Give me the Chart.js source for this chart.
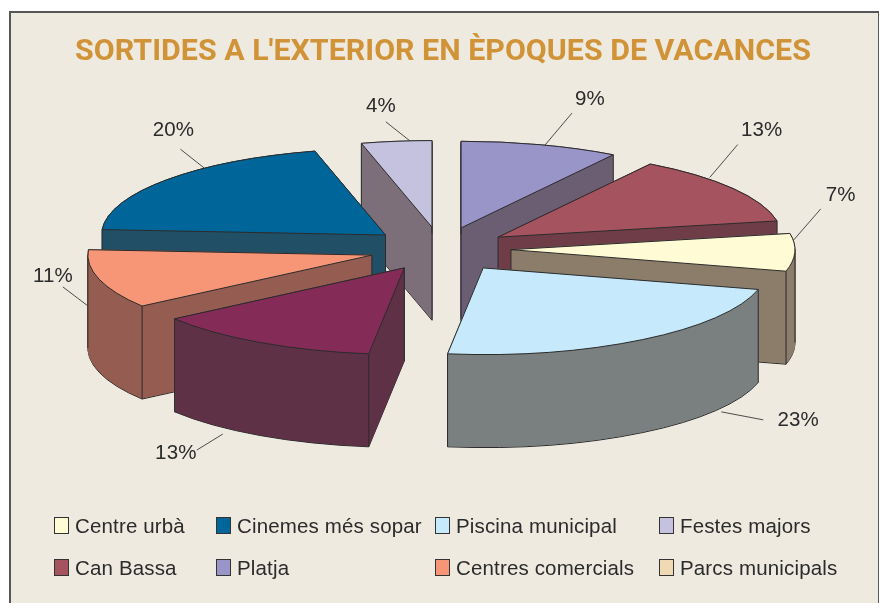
<!DOCTYPE html>
<html lang="ca">
<head>
<meta charset="utf-8">
<title>Sortides a l'exterior</title>
<style>
  html, body { margin: 0; padding: 0; background: #fff; overflow: hidden; }
  #panel { position: absolute; left: 9px; top: 11px; width: 867px; height: 600px; background: #EEEAE0; border: 2px solid #575757; box-sizing: content-box; }
  #c { position: absolute; left: 0; top: 0; }
</style>
</head>
<body>
<div id="panel"></div>
<canvas id="c" width="879" height="603"></canvas>
<script src="https://cdn.jsdelivr.net/npm/chart.js@4"></script>
<script>
// ---- data ----
const titleText = "SORTIDES A L'EXTERIOR EN ÈPOQUES DE VACANCES";
const categories = ["Platja", "Can Bassa", "Centre urbà", "Piscina municipal", "Parcs municipals", "Centres comercials", "Cinemes més sopar", "Festes majors"];
const values = [9, 13, 7, 23, 13, 11, 20, 4];
const topColors = ["#9A95C8", "#A5535F", "#FFFBD5", "#C6E9FC", "#852B58", "#F79677", "#006699", "#C5C2E0"];
const sideColors = ["#6B5D72", "#6F3D48", "#8C7D6B", "#7A7F7F", "#5F3147", "#955C52", "#214F66", "#7C6F7A"];
const legendRows = [
  ["Centre urbà", "Cinemes més sopar", "Piscina municipal", "Festes majors"],
  ["Can Bassa", "Platja", "Centres comercials", "Parcs municipals"]
];
const legendSwatches = [
  ["#FFFBD5", "#006699", "#C6E9FC", "#C5C2E0"],
  ["#A5535F", "#9A95C8", "#F79677", "#F0D9B5"]
];

// ---- layout / style ----
const CX = 441, CY = 249, RADIUS = 284, SQUASH = 0.305, DEPTH = 93;
const explodeBy = [72, 69, 70, 75, 72, 72, 72, 72];
const INK = "#2B2B2B";
const LABEL_FONT = "20.5px 'Liberation Sans'";
const LETTER = "0.15px";
const paintOrder = [7, 0, 6, 1, 2, 5, 4, 3];
// per slice: position along the arc, share of the wall depth, leader vector, label centre from anchor
const leaderLayout = [
  { f: 0.53,  d: 0,     lx: 27,  ly: -32, tx: 45,  ty: -46 },
  { f: 0.337, d: -0.02, lx: 28,  ly: -33, tx: 52,  ty: -47 },
  { f: 0.22,  d: -0.02, lx: 27,  ly: -31, tx: 47,  ty: -45 },
  { f: 0.225, d: 1.04,  lx: 42,  ly: 8,   tx: 77,  ty: 8 },
  { f: 0.695, d: 1.07,  lx: -26, ly: 16,  tx: -47, ty: 19 },
  { f: 0.90,  d: 0.54,  lx: -25, ly: -19, tx: -35, ty: -30 },
  { f: 0.65,  d: 0,     lx: -24, ly: -19, tx: -31, ty: -38 },
  { f: 0.69,  d: 0,     lx: -24, ly: -19, tx: -29, ty: -35 }
];
const legendColumns = [54, 216, 435, 659];
const legendRowsY = [525, 567];
const legendTextGap = 21;

function drawSlice(ctx, arc, i, dy, fill, stroke) {
  const mid = (arc.startAngle + arc.endAngle) / 2;
  const saved = arc.options;
  arc.options = {
    backgroundColor: fill, borderColor: stroke || fill, borderWidth: 1,
    borderAlign: "center", borderJoinStyle: "round", borderRadius: 0, offset: 0, spacing: 0, circular: true
  };
  ctx.save();
  ctx.translate(CX, CY + dy);
  ctx.scale(1, SQUASH);
  ctx.translate(-arc.x, -arc.y);
  ctx.translate(Math.cos(mid) * explodeBy[i], Math.sin(mid) * explodeBy[i]);
  const nativeStroke = ctx.stroke;
  ctx.stroke = function () {           // keep a uniform line width under the squash
    ctx.save();
    ctx.setTransform(1, 0, 0, 1, 0, 0);
    nativeStroke.call(ctx);
    ctx.restore();
  };
  arc.draw(ctx);
  delete ctx.stroke;
  ctx.restore();
  arc.options = saved;
}

function rimPoint(arc, i, angle) {
  const mid = (arc.startAngle + arc.endAngle) / 2;
  return {
    x: CX + Math.cos(mid) * explodeBy[i] + Math.cos(angle) * arc.outerRadius,
    y: CY + (Math.sin(mid) * explodeBy[i] + Math.sin(angle) * arc.outerRadius) * SQUASH
  };
}
function apex(arc, i) {
  const mid = (arc.startAngle + arc.endAngle) / 2;
  return { x: CX + Math.cos(mid) * explodeBy[i], y: CY + Math.sin(mid) * explodeBy[i] * SQUASH };
}
function drop(ctx, p) {
  ctx.beginPath();
  ctx.moveTo(p.x, p.y);
  ctx.lineTo(p.x, p.y + DEPTH);
  ctx.stroke();
}

const wallLayer = document.createElement("canvas");

const pie3d = {
  id: "pie3d",
  beforeDatasetDraw(chart) {
    const ctx = chart.ctx;
    const arcs = chart.getDatasetMeta(0).data;
    wallLayer.width = chart.width;
    wallLayer.height = chart.height;
    const off = wallLayer.getContext("2d");
    paintOrder.forEach(i => {
      const arc = arcs[i];
      // the ink outline of the wall's lower edge goes first
      drawSlice(ctx, arc, i, DEPTH, sideColors[i], INK);
      // wall: sweep the slice upward on its own layer, then flatten the colour
      off.clearRect(0, 0, wallLayer.width, wallLayer.height);
      for (let k = DEPTH - 1; k >= 0; k--) drawSlice(off, arc, i, k, sideColors[i]);
      off.save();
      off.globalCompositeOperation = "source-atop";
      off.fillStyle = sideColors[i];
      off.fillRect(0, 0, wallLayer.width, wallLayer.height);
      off.restore();
      ctx.drawImage(wallLayer, 0, 0);
      ctx.save();
      ctx.strokeStyle = INK;
      ctx.lineWidth = 1;
      const a = arc.startAngle, b = arc.endAngle;
      // canvas angle: sin<0 is the back half, cos>0 the right side
      if (!(Math.sin(a) < -1e-6 && Math.cos(a) > 1e-6)) drop(ctx, rimPoint(arc, i, a));
      if (!(Math.sin(b) < -1e-6 && Math.cos(b) < -1e-6)) drop(ctx, rimPoint(arc, i, b));
      const holdsFront = a < Math.PI / 2 && b > Math.PI / 2;
      if (!holdsFront) drop(ctx, apex(arc, i));
      if (a < 0 && b > 0) drop(ctx, rimPoint(arc, i, 0));
      if (a < Math.PI && b > Math.PI) drop(ctx, rimPoint(arc, i, Math.PI));
      ctx.restore();
      drawSlice(ctx, arc, i, 0, topColors[i], INK);
    });
    return false;
  },
  afterDraw(chart) {
    const ctx = chart.ctx;
    const arcs = chart.getDatasetMeta(0).data;
    ctx.save();
    ctx.font = LABEL_FONT;
    ctx.letterSpacing = LETTER;
    ctx.textBaseline = "middle";
    ctx.fillStyle = INK;
    ctx.strokeStyle = "#3A3A3A";
    ctx.lineWidth = 0.9;
    // percentage labels and leaders
    values.forEach((v, i) => {
      const arc = arcs[i], L = leaderLayout[i];
      const p = rimPoint(arc, i, arc.startAngle + (arc.endAngle - arc.startAngle) * L.f);
      const y = p.y + DEPTH * L.d;
      ctx.beginPath();
      ctx.moveTo(p.x, y);
      ctx.lineTo(p.x + L.lx, y + L.ly);
      ctx.stroke();
      ctx.textAlign = "center";
      ctx.fillText(v + "%", p.x + L.tx, y + L.ty);
    });
    // legend
    ctx.textAlign = "left";
    legendRows.forEach((row, r) => {
      row.forEach((name, c) => {
        const x = legendColumns[c], y = legendRowsY[r];
        ctx.fillStyle = legendSwatches[r][c];
        ctx.fillRect(x, y - 8, 14, 16);
        ctx.lineWidth = 1;
        ctx.strokeStyle = "#333";
        ctx.strokeRect(x + 0.5, y - 7.5, 14, 16);
        ctx.fillStyle = INK;
        ctx.fillText(name, x + legendTextGap, y + 2);
      });
    });
    ctx.restore();
  }
};

new Chart(document.getElementById("c"), {
  type: "pie",
  data: {
    labels: categories,
    datasets: [{ data: values, backgroundColor: topColors, borderColor: INK, borderWidth: 1 }]
  },
  options: {
    responsive: false,
    animation: false,
    radius: RADIUS,
    layout: { padding: { left: 7 } },
    plugins: {
      legend: { display: false },
      tooltip: { enabled: false },
      title: {
        display: true,
        text: titleText,
        color: "#D19337",
        font: { family: "Roboto", size: 30.4, weight: "bold" },
        padding: { top: 34, bottom: 10 }
      }
    }
  },
  plugins: [pie3d]
});
</script>
</body>
</html>
